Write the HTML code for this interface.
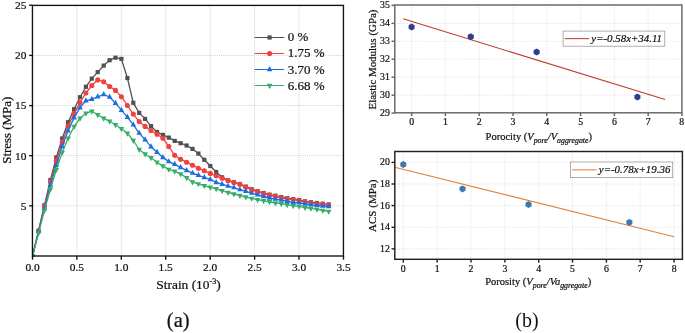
<!DOCTYPE html>
<html><head><meta charset="utf-8"><title>Figure</title>
<style>html,body{margin:0;padding:0;background:#fff}body{width:685px;height:333px;overflow:hidden}</style>
</head><body>
<svg width="685" height="333" viewBox="0 0 685 333" style="display:block">
<rect width="685" height="333" fill="#fff"/>
<g stroke="#bdbdbd" stroke-width="0.8" stroke-dasharray="0.9 1.15" fill="none">
<line x1="76.9" y1="5.4" x2="76.9" y2="256.0"/>
<line x1="121.3" y1="5.4" x2="121.3" y2="256.0"/>
<line x1="165.7" y1="5.4" x2="165.7" y2="256.0"/>
<line x1="210.2" y1="5.4" x2="210.2" y2="256.0"/>
<line x1="254.6" y1="5.4" x2="254.6" y2="256.0"/>
<line x1="299.0" y1="5.4" x2="299.0" y2="256.0"/>
<line x1="32.45" y1="205.8" x2="343.45" y2="205.8"/>
<line x1="32.45" y1="155.7" x2="343.45" y2="155.7"/>
<line x1="32.45" y1="105.6" x2="343.45" y2="105.6"/>
<line x1="32.45" y1="55.4" x2="343.45" y2="55.4"/>
</g>
<clipPath id="cl"><rect x="32.45" y="5.4" width="311.0" height="251.1"/></clipPath>
<g clip-path="url(#cl)">
<polyline points="32.5,256.3 38.5,230.8 44.4,205.3 50.4,180.0 56.3,157.4 62.2,138.5 68.1,122.2 74.1,109.2 80.0,97.2 85.9,86.8 91.8,78.6 97.7,72.1 103.7,65.6 109.6,60.2 115.5,57.7 121.4,58.9 127.4,78.0 133.3,102.8 139.2,112.9 145.1,118.9 151.0,126.1 157.0,132.0 162.9,134.9 168.8,137.6 174.7,140.9 180.6,143.2 186.6,145.5 192.5,148.9 198.4,153.6 204.3,159.8 210.3,166.0 216.2,172.0 222.1,177.3 228.0,180.3 233.9,182.2 239.9,184.0 245.8,186.6 251.7,189.2 257.6,191.2 263.6,193.0 269.5,194.6 275.4,195.7 281.3,197.1 287.2,198.2 293.2,199.1 299.1,200.0 305.0,201.3 310.9,202.2 316.9,203.0 322.8,203.7 328.7,204.4" fill="none" stroke="#515151" stroke-width="1.3" stroke-linejoin="round"/>
<rect x="30.4" y="254.2" width="4.2" height="4.2" fill="#515151" stroke="none"/>
<rect x="36.4" y="228.7" width="4.2" height="4.2" fill="#515151" stroke="none"/>
<rect x="42.3" y="203.2" width="4.2" height="4.2" fill="#515151" stroke="none"/>
<rect x="48.3" y="177.9" width="4.2" height="4.2" fill="#515151" stroke="none"/>
<rect x="54.2" y="155.3" width="4.2" height="4.2" fill="#515151" stroke="none"/>
<rect x="60.1" y="136.4" width="4.2" height="4.2" fill="#515151" stroke="none"/>
<rect x="66.0" y="120.1" width="4.2" height="4.2" fill="#515151" stroke="none"/>
<rect x="72.0" y="107.1" width="4.2" height="4.2" fill="#515151" stroke="none"/>
<rect x="77.9" y="95.1" width="4.2" height="4.2" fill="#515151" stroke="none"/>
<rect x="83.8" y="84.7" width="4.2" height="4.2" fill="#515151" stroke="none"/>
<rect x="89.7" y="76.5" width="4.2" height="4.2" fill="#515151" stroke="none"/>
<rect x="95.6" y="70.0" width="4.2" height="4.2" fill="#515151" stroke="none"/>
<rect x="101.6" y="63.5" width="4.2" height="4.2" fill="#515151" stroke="none"/>
<rect x="107.5" y="58.1" width="4.2" height="4.2" fill="#515151" stroke="none"/>
<rect x="113.4" y="55.6" width="4.2" height="4.2" fill="#515151" stroke="none"/>
<rect x="119.3" y="56.8" width="4.2" height="4.2" fill="#515151" stroke="none"/>
<rect x="125.3" y="75.9" width="4.2" height="4.2" fill="#515151" stroke="none"/>
<rect x="131.2" y="100.7" width="4.2" height="4.2" fill="#515151" stroke="none"/>
<rect x="137.1" y="110.8" width="4.2" height="4.2" fill="#515151" stroke="none"/>
<rect x="143.0" y="116.8" width="4.2" height="4.2" fill="#515151" stroke="none"/>
<rect x="148.9" y="124.0" width="4.2" height="4.2" fill="#515151" stroke="none"/>
<rect x="154.9" y="129.9" width="4.2" height="4.2" fill="#515151" stroke="none"/>
<rect x="160.8" y="132.8" width="4.2" height="4.2" fill="#515151" stroke="none"/>
<rect x="166.7" y="135.5" width="4.2" height="4.2" fill="#515151" stroke="none"/>
<rect x="172.6" y="138.8" width="4.2" height="4.2" fill="#515151" stroke="none"/>
<rect x="178.5" y="141.1" width="4.2" height="4.2" fill="#515151" stroke="none"/>
<rect x="184.5" y="143.4" width="4.2" height="4.2" fill="#515151" stroke="none"/>
<rect x="190.4" y="146.8" width="4.2" height="4.2" fill="#515151" stroke="none"/>
<rect x="196.3" y="151.5" width="4.2" height="4.2" fill="#515151" stroke="none"/>
<rect x="202.2" y="157.7" width="4.2" height="4.2" fill="#515151" stroke="none"/>
<rect x="208.2" y="163.9" width="4.2" height="4.2" fill="#515151" stroke="none"/>
<rect x="214.1" y="169.9" width="4.2" height="4.2" fill="#515151" stroke="none"/>
<rect x="220.0" y="175.2" width="4.2" height="4.2" fill="#515151" stroke="none"/>
<rect x="225.9" y="178.2" width="4.2" height="4.2" fill="#515151" stroke="none"/>
<rect x="231.8" y="180.1" width="4.2" height="4.2" fill="#515151" stroke="none"/>
<rect x="237.8" y="181.9" width="4.2" height="4.2" fill="#515151" stroke="none"/>
<rect x="243.7" y="184.5" width="4.2" height="4.2" fill="#515151" stroke="none"/>
<rect x="249.6" y="187.1" width="4.2" height="4.2" fill="#515151" stroke="none"/>
<rect x="255.5" y="189.1" width="4.2" height="4.2" fill="#515151" stroke="none"/>
<rect x="261.5" y="190.9" width="4.2" height="4.2" fill="#515151" stroke="none"/>
<rect x="267.4" y="192.5" width="4.2" height="4.2" fill="#515151" stroke="none"/>
<rect x="273.3" y="193.6" width="4.2" height="4.2" fill="#515151" stroke="none"/>
<rect x="279.2" y="195.0" width="4.2" height="4.2" fill="#515151" stroke="none"/>
<rect x="285.1" y="196.1" width="4.2" height="4.2" fill="#515151" stroke="none"/>
<rect x="291.1" y="197.0" width="4.2" height="4.2" fill="#515151" stroke="none"/>
<rect x="297.0" y="197.9" width="4.2" height="4.2" fill="#515151" stroke="none"/>
<rect x="302.9" y="199.2" width="4.2" height="4.2" fill="#515151" stroke="none"/>
<rect x="308.8" y="200.1" width="4.2" height="4.2" fill="#515151" stroke="none"/>
<rect x="314.8" y="200.9" width="4.2" height="4.2" fill="#515151" stroke="none"/>
<rect x="320.7" y="201.6" width="4.2" height="4.2" fill="#515151" stroke="none"/>
<rect x="326.6" y="202.3" width="4.2" height="4.2" fill="#515151" stroke="none"/>
<polyline points="32.5,256.3 38.5,231.0 44.4,206.5 50.4,182.0 56.3,160.8 62.2,142.5 68.1,126.1 74.1,113.6 80.0,102.5 85.9,93.0 91.8,85.5 97.7,79.9 103.7,81.7 109.6,86.5 115.5,90.4 121.4,96.7 127.4,105.5 133.3,114.1 139.2,121.6 145.1,126.4 151.0,130.5 157.0,134.3 162.9,138.2 168.8,146.5 174.7,155.3 180.6,159.2 186.6,162.2 192.5,165.2 198.4,168.2 204.3,170.8 210.3,173.4 216.2,175.8 222.1,178.3 228.0,180.6 233.9,182.5 239.9,184.3 245.8,187.3 251.7,189.9 257.6,191.9 263.6,193.7 269.5,195.3 275.4,196.4 281.3,197.8 287.2,198.9 293.2,199.8 299.1,200.7 305.0,202.0 310.9,202.9 316.9,203.7 322.8,204.4 328.7,205.1" fill="none" stroke="#F14040" stroke-width="1.3" stroke-linejoin="round"/>
<circle cx="32.5" cy="256.3" r="2.55" fill="#F14040" stroke="none"/>
<circle cx="38.5" cy="231.0" r="2.55" fill="#F14040" stroke="none"/>
<circle cx="44.4" cy="206.5" r="2.55" fill="#F14040" stroke="none"/>
<circle cx="50.4" cy="182.0" r="2.55" fill="#F14040" stroke="none"/>
<circle cx="56.3" cy="160.8" r="2.55" fill="#F14040" stroke="none"/>
<circle cx="62.2" cy="142.5" r="2.55" fill="#F14040" stroke="none"/>
<circle cx="68.1" cy="126.1" r="2.55" fill="#F14040" stroke="none"/>
<circle cx="74.1" cy="113.6" r="2.55" fill="#F14040" stroke="none"/>
<circle cx="80.0" cy="102.5" r="2.55" fill="#F14040" stroke="none"/>
<circle cx="85.9" cy="93.0" r="2.55" fill="#F14040" stroke="none"/>
<circle cx="91.8" cy="85.5" r="2.55" fill="#F14040" stroke="none"/>
<circle cx="97.7" cy="79.9" r="2.55" fill="#F14040" stroke="none"/>
<circle cx="103.7" cy="81.7" r="2.55" fill="#F14040" stroke="none"/>
<circle cx="109.6" cy="86.5" r="2.55" fill="#F14040" stroke="none"/>
<circle cx="115.5" cy="90.4" r="2.55" fill="#F14040" stroke="none"/>
<circle cx="121.4" cy="96.7" r="2.55" fill="#F14040" stroke="none"/>
<circle cx="127.4" cy="105.5" r="2.55" fill="#F14040" stroke="none"/>
<circle cx="133.3" cy="114.1" r="2.55" fill="#F14040" stroke="none"/>
<circle cx="139.2" cy="121.6" r="2.55" fill="#F14040" stroke="none"/>
<circle cx="145.1" cy="126.4" r="2.55" fill="#F14040" stroke="none"/>
<circle cx="151.0" cy="130.5" r="2.55" fill="#F14040" stroke="none"/>
<circle cx="157.0" cy="134.3" r="2.55" fill="#F14040" stroke="none"/>
<circle cx="162.9" cy="138.2" r="2.55" fill="#F14040" stroke="none"/>
<circle cx="168.8" cy="146.5" r="2.55" fill="#F14040" stroke="none"/>
<circle cx="174.7" cy="155.3" r="2.55" fill="#F14040" stroke="none"/>
<circle cx="180.6" cy="159.2" r="2.55" fill="#F14040" stroke="none"/>
<circle cx="186.6" cy="162.2" r="2.55" fill="#F14040" stroke="none"/>
<circle cx="192.5" cy="165.2" r="2.55" fill="#F14040" stroke="none"/>
<circle cx="198.4" cy="168.2" r="2.55" fill="#F14040" stroke="none"/>
<circle cx="204.3" cy="170.8" r="2.55" fill="#F14040" stroke="none"/>
<circle cx="210.3" cy="173.4" r="2.55" fill="#F14040" stroke="none"/>
<circle cx="216.2" cy="175.8" r="2.55" fill="#F14040" stroke="none"/>
<circle cx="222.1" cy="178.3" r="2.55" fill="#F14040" stroke="none"/>
<circle cx="228.0" cy="180.6" r="2.55" fill="#F14040" stroke="none"/>
<circle cx="233.9" cy="182.5" r="2.55" fill="#F14040" stroke="none"/>
<circle cx="239.9" cy="184.3" r="2.55" fill="#F14040" stroke="none"/>
<circle cx="245.8" cy="187.3" r="2.55" fill="#F14040" stroke="none"/>
<circle cx="251.7" cy="189.9" r="2.55" fill="#F14040" stroke="none"/>
<circle cx="257.6" cy="191.9" r="2.55" fill="#F14040" stroke="none"/>
<circle cx="263.6" cy="193.7" r="2.55" fill="#F14040" stroke="none"/>
<circle cx="269.5" cy="195.3" r="2.55" fill="#F14040" stroke="none"/>
<circle cx="275.4" cy="196.4" r="2.55" fill="#F14040" stroke="none"/>
<circle cx="281.3" cy="197.8" r="2.55" fill="#F14040" stroke="none"/>
<circle cx="287.2" cy="198.9" r="2.55" fill="#F14040" stroke="none"/>
<circle cx="293.2" cy="199.8" r="2.55" fill="#F14040" stroke="none"/>
<circle cx="299.1" cy="200.7" r="2.55" fill="#F14040" stroke="none"/>
<circle cx="305.0" cy="202.0" r="2.55" fill="#F14040" stroke="none"/>
<circle cx="310.9" cy="202.9" r="2.55" fill="#F14040" stroke="none"/>
<circle cx="316.9" cy="203.7" r="2.55" fill="#F14040" stroke="none"/>
<circle cx="322.8" cy="204.4" r="2.55" fill="#F14040" stroke="none"/>
<circle cx="328.7" cy="205.1" r="2.55" fill="#F14040" stroke="none"/>
<polyline points="32.5,256.3 38.5,231.5 44.4,208.3 50.4,185.0 56.3,165.3 62.2,146.5 68.1,130.7 74.1,117.8 80.0,107.7 85.9,100.8 91.8,99.2 97.7,96.8 103.7,94.5 109.6,97.0 115.5,103.2 121.4,110.2 127.4,117.2 133.3,124.8 139.2,133.1 145.1,139.7 151.0,146.7 157.0,152.3 162.9,157.4 168.8,161.6 174.7,164.3 180.6,167.4 186.6,170.4 192.5,173.1 198.4,175.3 204.3,177.5 210.3,179.4 216.2,182.4 222.1,184.2 228.0,186.1 233.9,187.6 239.9,189.6 245.8,191.3 251.7,193.1 257.6,194.8 263.6,196.5 269.5,198.0 275.4,199.1 281.3,200.1 287.2,201.2 293.2,202.4 299.1,202.8 305.0,203.9 310.9,204.8 316.9,205.5 322.8,206.1 328.7,206.6" fill="none" stroke="#1A6FDF" stroke-width="1.3" stroke-linejoin="round"/>
<polygon points="32.5,252.83 29.7,258.03 35.2,258.03" fill="#1A6FDF" stroke="none"/>
<polygon points="38.5,228.03 35.7,233.23 41.3,233.23" fill="#1A6FDF" stroke="none"/>
<polygon points="44.4,204.83 41.6,210.03 47.2,210.03" fill="#1A6FDF" stroke="none"/>
<polygon points="50.4,181.53 47.6,186.73 53.2,186.73" fill="#1A6FDF" stroke="none"/>
<polygon points="56.3,161.83 53.5,167.03 59.1,167.03" fill="#1A6FDF" stroke="none"/>
<polygon points="62.2,143.03 59.4,148.23 65.0,148.23" fill="#1A6FDF" stroke="none"/>
<polygon points="68.1,127.23 65.3,132.43 70.9,132.43" fill="#1A6FDF" stroke="none"/>
<polygon points="74.1,114.33 71.3,119.53 76.9,119.53" fill="#1A6FDF" stroke="none"/>
<polygon points="80.0,104.23 77.2,109.43 82.8,109.43" fill="#1A6FDF" stroke="none"/>
<polygon points="85.9,97.33 83.1,102.53 88.7,102.53" fill="#1A6FDF" stroke="none"/>
<polygon points="91.8,95.73 89.0,100.93 94.6,100.93" fill="#1A6FDF" stroke="none"/>
<polygon points="97.7,93.33 94.9,98.53 100.5,98.53" fill="#1A6FDF" stroke="none"/>
<polygon points="103.7,91.03 100.9,96.23 106.5,96.23" fill="#1A6FDF" stroke="none"/>
<polygon points="109.6,93.53 106.8,98.73 112.4,98.73" fill="#1A6FDF" stroke="none"/>
<polygon points="115.5,99.73 112.7,104.93 118.3,104.93" fill="#1A6FDF" stroke="none"/>
<polygon points="121.4,106.73 118.6,111.93 124.2,111.93" fill="#1A6FDF" stroke="none"/>
<polygon points="127.4,113.73 124.6,118.93 130.2,118.93" fill="#1A6FDF" stroke="none"/>
<polygon points="133.3,121.33 130.5,126.53 136.1,126.53" fill="#1A6FDF" stroke="none"/>
<polygon points="139.2,129.63 136.4,134.83 142.0,134.83" fill="#1A6FDF" stroke="none"/>
<polygon points="145.1,136.23 142.3,141.43 147.9,141.43" fill="#1A6FDF" stroke="none"/>
<polygon points="151.0,143.23 148.2,148.43 153.8,148.43" fill="#1A6FDF" stroke="none"/>
<polygon points="157.0,148.83 154.2,154.03 159.8,154.03" fill="#1A6FDF" stroke="none"/>
<polygon points="162.9,153.93 160.1,159.13 165.7,159.13" fill="#1A6FDF" stroke="none"/>
<polygon points="168.8,158.13 166.0,163.33 171.6,163.33" fill="#1A6FDF" stroke="none"/>
<polygon points="174.7,160.83 171.9,166.03 177.5,166.03" fill="#1A6FDF" stroke="none"/>
<polygon points="180.6,163.93 177.8,169.13 183.4,169.13" fill="#1A6FDF" stroke="none"/>
<polygon points="186.6,166.93 183.8,172.13 189.4,172.13" fill="#1A6FDF" stroke="none"/>
<polygon points="192.5,169.63 189.7,174.83 195.3,174.83" fill="#1A6FDF" stroke="none"/>
<polygon points="198.4,171.83 195.6,177.03 201.2,177.03" fill="#1A6FDF" stroke="none"/>
<polygon points="204.3,174.03 201.5,179.23 207.1,179.23" fill="#1A6FDF" stroke="none"/>
<polygon points="210.3,175.93 207.5,181.13 213.1,181.13" fill="#1A6FDF" stroke="none"/>
<polygon points="216.2,178.93 213.4,184.13 219.0,184.13" fill="#1A6FDF" stroke="none"/>
<polygon points="222.1,180.73 219.3,185.93 224.9,185.93" fill="#1A6FDF" stroke="none"/>
<polygon points="228.0,182.63 225.2,187.83 230.8,187.83" fill="#1A6FDF" stroke="none"/>
<polygon points="233.9,184.13 231.1,189.33 236.7,189.33" fill="#1A6FDF" stroke="none"/>
<polygon points="239.9,186.13 237.1,191.33 242.7,191.33" fill="#1A6FDF" stroke="none"/>
<polygon points="245.8,187.83 243.0,193.03 248.6,193.03" fill="#1A6FDF" stroke="none"/>
<polygon points="251.7,189.63 248.9,194.83 254.5,194.83" fill="#1A6FDF" stroke="none"/>
<polygon points="257.6,191.33 254.8,196.53 260.4,196.53" fill="#1A6FDF" stroke="none"/>
<polygon points="263.6,193.03 260.8,198.23 266.4,198.23" fill="#1A6FDF" stroke="none"/>
<polygon points="269.5,194.53 266.7,199.73 272.3,199.73" fill="#1A6FDF" stroke="none"/>
<polygon points="275.4,195.63 272.6,200.83 278.2,200.83" fill="#1A6FDF" stroke="none"/>
<polygon points="281.3,196.63 278.5,201.83 284.1,201.83" fill="#1A6FDF" stroke="none"/>
<polygon points="287.2,197.73 284.4,202.93 290.0,202.93" fill="#1A6FDF" stroke="none"/>
<polygon points="293.2,198.93 290.4,204.13 296.0,204.13" fill="#1A6FDF" stroke="none"/>
<polygon points="299.1,199.33 296.3,204.53 301.9,204.53" fill="#1A6FDF" stroke="none"/>
<polygon points="305.0,200.43 302.2,205.63 307.8,205.63" fill="#1A6FDF" stroke="none"/>
<polygon points="310.9,201.33 308.1,206.53 313.7,206.53" fill="#1A6FDF" stroke="none"/>
<polygon points="316.9,202.03 314.1,207.23 319.7,207.23" fill="#1A6FDF" stroke="none"/>
<polygon points="322.8,202.63 320.0,207.83 325.6,207.83" fill="#1A6FDF" stroke="none"/>
<polygon points="328.7,203.13 325.9,208.33 331.5,208.33" fill="#1A6FDF" stroke="none"/>
<polyline points="32.5,256.3 38.5,233.3 44.4,210.6 50.4,189.2 56.3,169.8 62.2,152.6 68.1,138.3 74.1,126.5 80.0,118.3 85.9,113.3 91.8,111.2 97.7,114.8 103.7,118.3 109.6,121.3 115.5,124.7 121.4,128.8 127.4,133.2 133.3,140.5 139.2,149.5 145.1,154.1 151.0,157.8 157.0,162.3 162.9,166.1 168.8,169.4 174.7,171.3 180.6,173.9 186.6,177.7 192.5,182.1 198.4,183.9 204.3,185.8 210.3,187.3 216.2,188.8 222.1,190.8 228.0,192.5 233.9,194.0 239.9,195.5 245.8,197.1 251.7,198.4 257.6,199.7 263.6,200.8 269.5,201.8 275.4,203.0 281.3,203.7 287.2,204.8 293.2,205.7 299.1,206.4 305.0,207.5 310.9,208.4 316.9,209.4 322.8,210.5 328.7,211.4" fill="none" stroke="#37AD6B" stroke-width="1.3" stroke-linejoin="round"/>
<polygon points="32.5,259.77 29.7,254.57 35.2,254.57" fill="#37AD6B" stroke="none"/>
<polygon points="38.5,236.77 35.7,231.57 41.3,231.57" fill="#37AD6B" stroke="none"/>
<polygon points="44.4,214.07 41.6,208.87 47.2,208.87" fill="#37AD6B" stroke="none"/>
<polygon points="50.4,192.67 47.6,187.47 53.2,187.47" fill="#37AD6B" stroke="none"/>
<polygon points="56.3,173.27 53.5,168.07 59.1,168.07" fill="#37AD6B" stroke="none"/>
<polygon points="62.2,156.07 59.4,150.87 65.0,150.87" fill="#37AD6B" stroke="none"/>
<polygon points="68.1,141.77 65.3,136.57 70.9,136.57" fill="#37AD6B" stroke="none"/>
<polygon points="74.1,129.97 71.3,124.77 76.9,124.77" fill="#37AD6B" stroke="none"/>
<polygon points="80.0,121.77 77.2,116.57 82.8,116.57" fill="#37AD6B" stroke="none"/>
<polygon points="85.9,116.77 83.1,111.57 88.7,111.57" fill="#37AD6B" stroke="none"/>
<polygon points="91.8,114.67 89.0,109.47 94.6,109.47" fill="#37AD6B" stroke="none"/>
<polygon points="97.7,118.27 94.9,113.07 100.5,113.07" fill="#37AD6B" stroke="none"/>
<polygon points="103.7,121.77 100.9,116.57 106.5,116.57" fill="#37AD6B" stroke="none"/>
<polygon points="109.6,124.77 106.8,119.57 112.4,119.57" fill="#37AD6B" stroke="none"/>
<polygon points="115.5,128.17 112.7,122.97 118.3,122.97" fill="#37AD6B" stroke="none"/>
<polygon points="121.4,132.27 118.6,127.07 124.2,127.07" fill="#37AD6B" stroke="none"/>
<polygon points="127.4,136.67 124.6,131.47 130.2,131.47" fill="#37AD6B" stroke="none"/>
<polygon points="133.3,143.97 130.5,138.77 136.1,138.77" fill="#37AD6B" stroke="none"/>
<polygon points="139.2,152.97 136.4,147.77 142.0,147.77" fill="#37AD6B" stroke="none"/>
<polygon points="145.1,157.57 142.3,152.37 147.9,152.37" fill="#37AD6B" stroke="none"/>
<polygon points="151.0,161.27 148.2,156.07 153.8,156.07" fill="#37AD6B" stroke="none"/>
<polygon points="157.0,165.77 154.2,160.57 159.8,160.57" fill="#37AD6B" stroke="none"/>
<polygon points="162.9,169.57 160.1,164.37 165.7,164.37" fill="#37AD6B" stroke="none"/>
<polygon points="168.8,172.87 166.0,167.67 171.6,167.67" fill="#37AD6B" stroke="none"/>
<polygon points="174.7,174.77 171.9,169.57 177.5,169.57" fill="#37AD6B" stroke="none"/>
<polygon points="180.6,177.37 177.8,172.17 183.4,172.17" fill="#37AD6B" stroke="none"/>
<polygon points="186.6,181.17 183.8,175.97 189.4,175.97" fill="#37AD6B" stroke="none"/>
<polygon points="192.5,185.57 189.7,180.37 195.3,180.37" fill="#37AD6B" stroke="none"/>
<polygon points="198.4,187.37 195.6,182.17 201.2,182.17" fill="#37AD6B" stroke="none"/>
<polygon points="204.3,189.27 201.5,184.07 207.1,184.07" fill="#37AD6B" stroke="none"/>
<polygon points="210.3,190.77 207.5,185.57 213.1,185.57" fill="#37AD6B" stroke="none"/>
<polygon points="216.2,192.27 213.4,187.07 219.0,187.07" fill="#37AD6B" stroke="none"/>
<polygon points="222.1,194.27 219.3,189.07 224.9,189.07" fill="#37AD6B" stroke="none"/>
<polygon points="228.0,195.97 225.2,190.77 230.8,190.77" fill="#37AD6B" stroke="none"/>
<polygon points="233.9,197.47 231.1,192.27 236.7,192.27" fill="#37AD6B" stroke="none"/>
<polygon points="239.9,198.97 237.1,193.77 242.7,193.77" fill="#37AD6B" stroke="none"/>
<polygon points="245.8,200.57 243.0,195.37 248.6,195.37" fill="#37AD6B" stroke="none"/>
<polygon points="251.7,201.87 248.9,196.67 254.5,196.67" fill="#37AD6B" stroke="none"/>
<polygon points="257.6,203.17 254.8,197.97 260.4,197.97" fill="#37AD6B" stroke="none"/>
<polygon points="263.6,204.27 260.8,199.07 266.4,199.07" fill="#37AD6B" stroke="none"/>
<polygon points="269.5,205.27 266.7,200.07 272.3,200.07" fill="#37AD6B" stroke="none"/>
<polygon points="275.4,206.47 272.6,201.27 278.2,201.27" fill="#37AD6B" stroke="none"/>
<polygon points="281.3,207.17 278.5,201.97 284.1,201.97" fill="#37AD6B" stroke="none"/>
<polygon points="287.2,208.27 284.4,203.07 290.0,203.07" fill="#37AD6B" stroke="none"/>
<polygon points="293.2,209.17 290.4,203.97 296.0,203.97" fill="#37AD6B" stroke="none"/>
<polygon points="299.1,209.87 296.3,204.67 301.9,204.67" fill="#37AD6B" stroke="none"/>
<polygon points="305.0,210.97 302.2,205.77 307.8,205.77" fill="#37AD6B" stroke="none"/>
<polygon points="310.9,211.87 308.1,206.67 313.7,206.67" fill="#37AD6B" stroke="none"/>
<polygon points="316.9,212.87 314.1,207.67 319.7,207.67" fill="#37AD6B" stroke="none"/>
<polygon points="322.8,213.97 320.0,208.77 325.6,208.77" fill="#37AD6B" stroke="none"/>
<polygon points="328.7,214.87 325.9,209.67 331.5,209.67" fill="#37AD6B" stroke="none"/>
</g>
<g stroke="#111" stroke-width="1.35" fill="none">
<rect x="32.45" y="5.4" width="311.0" height="250.6"/>
<line x1="32.5" y1="256.0" x2="32.5" y2="259.7"/>
<line x1="76.9" y1="256.0" x2="76.9" y2="259.7"/>
<line x1="121.3" y1="256.0" x2="121.3" y2="259.7"/>
<line x1="165.7" y1="256.0" x2="165.7" y2="259.7"/>
<line x1="210.2" y1="256.0" x2="210.2" y2="259.7"/>
<line x1="254.6" y1="256.0" x2="254.6" y2="259.7"/>
<line x1="299.0" y1="256.0" x2="299.0" y2="259.7"/>
<line x1="343.5" y1="256.0" x2="343.5" y2="259.7"/>
<line x1="32.45" y1="205.8" x2="29.150000000000002" y2="205.8"/>
<line x1="32.45" y1="155.7" x2="29.150000000000002" y2="155.7"/>
<line x1="32.45" y1="105.6" x2="29.150000000000002" y2="105.6"/>
<line x1="32.45" y1="55.4" x2="29.150000000000002" y2="55.4"/>
<line x1="32.45" y1="5.2" x2="29.150000000000002" y2="5.2"/>
</g>
<g font-family="'Liberation Serif', serif" fill="#111" stroke="#111" stroke-width="0.22">
<g font-size="11.4" text-anchor="middle">
<text x="32.5" y="270.9">0.0</text>
<text x="76.9" y="270.9">0.5</text>
<text x="121.3" y="270.9">1.0</text>
<text x="165.7" y="270.9">1.5</text>
<text x="210.2" y="270.9">2.0</text>
<text x="254.6" y="270.9">2.5</text>
<text x="299.0" y="270.9">3.0</text>
<text x="343.5" y="270.9">3.5</text>
</g>
<g font-size="11.4" text-anchor="end">
<text x="26.4" y="209.7">5</text>
<text x="26.4" y="159.5">10</text>
<text x="26.4" y="109.4">15</text>
<text x="26.4" y="59.2">20</text>
<text x="26.4" y="9.1">25</text>
</g>
<text x="188.5" y="289.2" font-size="13.4" text-anchor="middle">Strain (10<tspan font-size="8" dy="-5.2">-3</tspan><tspan dy="5.2">)</tspan></text>
<text transform="translate(10.9,130.3) rotate(-90)" font-size="12.9" text-anchor="middle">Stress (MPa)</text>
<text x="178.2" y="326.6" font-size="20.5" text-anchor="middle">(a)</text>
<line x1="254.6" y1="37.5" x2="284.2" y2="37.5" stroke="#515151" stroke-width="1"/>
<rect x="267.5" y="35.4" width="4.2" height="4.2" fill="#515151" stroke="none"/>
<text x="287.8" y="41.3" font-size="13">0 %</text>
<line x1="254.6" y1="53.5" x2="284.2" y2="53.5" stroke="#F14040" stroke-width="1"/>
<circle cx="269.6" cy="53.5" r="2.55" fill="#F14040" stroke="none"/>
<text x="287.8" y="57.4" font-size="13">1.75 %</text>
<line x1="254.6" y1="69.5" x2="284.2" y2="69.5" stroke="#1A6FDF" stroke-width="1"/>
<polygon points="269.6,66.03 266.8,71.23 272.4,71.23" fill="#1A6FDF" stroke="none"/>
<text x="287.8" y="73.6" font-size="13">3.70 %</text>
<line x1="254.6" y1="85.5" x2="284.2" y2="85.5" stroke="#37AD6B" stroke-width="1"/>
<polygon points="269.6,88.97 266.8,83.77 272.4,83.77" fill="#37AD6B" stroke="none"/>
<text x="287.8" y="89.6" font-size="13">6.68 %</text>
</g>
<g stroke="#d4d4d4" stroke-width="0.8" stroke-dasharray="0.8 1.3" fill="none">
<line x1="411.6" y1="5.0" x2="411.6" y2="112.8"/>
<line x1="445.4" y1="5.0" x2="445.4" y2="112.8"/>
<line x1="479.2" y1="5.0" x2="479.2" y2="112.8"/>
<line x1="513.0" y1="5.0" x2="513.0" y2="112.8"/>
<line x1="546.8" y1="5.0" x2="546.8" y2="112.8"/>
<line x1="580.6" y1="5.0" x2="580.6" y2="112.8"/>
<line x1="614.4" y1="5.0" x2="614.4" y2="112.8"/>
<line x1="648.2" y1="5.0" x2="648.2" y2="112.8"/>
<line x1="394.8" y1="95.2" x2="681.9" y2="95.2"/>
<line x1="394.8" y1="77.2" x2="681.9" y2="77.2"/>
<line x1="394.8" y1="59.2" x2="681.9" y2="59.2"/>
<line x1="394.8" y1="41.3" x2="681.9" y2="41.3"/>
<line x1="394.8" y1="23.4" x2="681.9" y2="23.4"/>
</g>
<line x1="403.2" y1="18.8" x2="665.1" y2="99.5" stroke="#c0392b" stroke-width="1.1"/>
<polygon points="411.6,23.4 414.6,25.2 414.6,28.7 411.6,30.4 408.6,28.7 408.6,25.2" fill="#343c8e"/>
<polygon points="470.8,33.3 473.8,35.1 473.8,38.6 470.8,40.3 467.7,38.6 467.7,35.1" fill="#343c8e"/>
<polygon points="536.7,48.6 539.7,50.3 539.7,53.8 536.7,55.6 533.6,53.8 533.6,50.3" fill="#343c8e"/>
<polygon points="637.4,93.4 640.4,95.2 640.4,98.7 637.4,100.4 634.4,98.7 634.4,95.2" fill="#343c8e"/>
<g stroke="#666" stroke-width="1.45" fill="none">
<rect x="394.8" y="5.0" width="287.09999999999997" height="107.8"/>
<line x1="411.6" y1="112.8" x2="411.6" y2="116.1"/>
<line x1="445.4" y1="112.8" x2="445.4" y2="116.1"/>
<line x1="479.2" y1="112.8" x2="479.2" y2="116.1"/>
<line x1="513.0" y1="112.8" x2="513.0" y2="116.1"/>
<line x1="546.8" y1="112.8" x2="546.8" y2="116.1"/>
<line x1="580.6" y1="112.8" x2="580.6" y2="116.1"/>
<line x1="614.4" y1="112.8" x2="614.4" y2="116.1"/>
<line x1="648.2" y1="112.8" x2="648.2" y2="116.1"/>
<line x1="682.0" y1="112.8" x2="682.0" y2="116.1"/>
<line x1="394.8" y1="113.1" x2="391.5" y2="113.1"/>
<line x1="394.8" y1="95.2" x2="391.5" y2="95.2"/>
<line x1="394.8" y1="77.2" x2="391.5" y2="77.2"/>
<line x1="394.8" y1="59.2" x2="391.5" y2="59.2"/>
<line x1="394.8" y1="41.3" x2="391.5" y2="41.3"/>
<line x1="394.8" y1="23.4" x2="391.5" y2="23.4"/>
<line x1="394.8" y1="5.4" x2="391.5" y2="5.4"/>
</g>
<g font-family="'Liberation Serif', serif" fill="#111" stroke="#111" stroke-width="0.22">
<g font-size="9.8" text-anchor="middle">
<text x="411.6" y="125.2">0</text>
<text x="445.4" y="125.2">1</text>
<text x="479.2" y="125.2">2</text>
<text x="513.0" y="125.2">3</text>
<text x="546.8" y="125.2">4</text>
<text x="580.6" y="125.2">5</text>
<text x="614.4" y="125.2">6</text>
<text x="648.2" y="125.2">7</text>
<text x="681.6" y="125.2">8</text>
</g><g font-size="9.8" text-anchor="end">
<text x="389.9" y="115.6">29</text>
<text x="389.9" y="97.7">30</text>
<text x="389.9" y="79.7">31</text>
<text x="389.9" y="61.7">32</text>
<text x="389.9" y="43.8">33</text>
<text x="389.9" y="25.9">34</text>
<text x="389.9" y="7.9">35</text>
</g>
<text x="485.6" y="139.8" font-size="10.5">Porocity (<tspan font-style="italic">V</tspan><tspan font-style="italic" font-size="7.8" dy="3">pore</tspan><tspan dy="-3" font-style="italic">/V</tspan><tspan font-style="italic" font-size="7.8" dy="3">aggregate</tspan><tspan dy="-3">)</tspan></text>
<text transform="translate(376.2,59.5) rotate(-90)" font-size="10.9" text-anchor="middle">Elastic Modulus (GPa)</text>
<rect x="563.1" y="31.1" width="101.7" height="15.1" fill="#fff" stroke="#9a9a9a" stroke-width="0.8"/>
<line x1="564.6" y1="38.65" x2="589.1" y2="38.65" stroke="#c0392b" stroke-width="1.0"/>
<text x="591.3000000000001" y="42.2" font-size="10.9" font-style="italic">y=-0.58x+34.11</text>
</g>
<g stroke="#d4d4d4" stroke-width="0.8" stroke-dasharray="0.8 1.3" fill="none">
<line x1="403.3" y1="151.5" x2="403.3" y2="259.3"/>
<line x1="437.2" y1="151.5" x2="437.2" y2="259.3"/>
<line x1="471.0" y1="151.5" x2="471.0" y2="259.3"/>
<line x1="504.9" y1="151.5" x2="504.9" y2="259.3"/>
<line x1="538.7" y1="151.5" x2="538.7" y2="259.3"/>
<line x1="572.5" y1="151.5" x2="572.5" y2="259.3"/>
<line x1="606.4" y1="151.5" x2="606.4" y2="259.3"/>
<line x1="640.2" y1="151.5" x2="640.2" y2="259.3"/>
<line x1="674.1" y1="151.5" x2="674.1" y2="259.3"/>
<line x1="394.8" y1="248.9" x2="682.4" y2="248.9"/>
<line x1="394.8" y1="227.3" x2="682.4" y2="227.3"/>
<line x1="394.8" y1="205.6" x2="682.4" y2="205.6"/>
<line x1="394.8" y1="184.0" x2="682.4" y2="184.0"/>
<line x1="394.8" y1="162.4" x2="682.4" y2="162.4"/>
</g>
<line x1="394.8" y1="167.2" x2="674.1" y2="236.8" stroke="#e5813b" stroke-width="1.1"/>
<polygon points="403.3,161.1 406.3,162.8 406.3,166.3 403.3,168.1 400.3,166.3 400.3,162.8" fill="#3b78b0"/>
<polygon points="462.5,185.4 465.6,187.1 465.6,190.6 462.5,192.4 459.5,190.6 459.5,187.1" fill="#3b78b0"/>
<polygon points="528.5,201.1 531.6,202.8 531.6,206.3 528.5,208.1 525.5,206.3 525.5,202.8" fill="#3b78b0"/>
<polygon points="629.4,218.9 632.4,220.6 632.4,224.1 629.4,225.9 626.4,224.1 626.4,220.6" fill="#3b78b0"/>
<g stroke="#222" stroke-width="1.45" fill="none">
<rect x="394.8" y="151.5" width="287.59999999999997" height="107.80000000000001"/>
<line x1="403.3" y1="259.3" x2="403.3" y2="262.6"/>
<line x1="437.2" y1="259.3" x2="437.2" y2="262.6"/>
<line x1="471.0" y1="259.3" x2="471.0" y2="262.6"/>
<line x1="504.9" y1="259.3" x2="504.9" y2="262.6"/>
<line x1="538.7" y1="259.3" x2="538.7" y2="262.6"/>
<line x1="572.5" y1="259.3" x2="572.5" y2="262.6"/>
<line x1="606.4" y1="259.3" x2="606.4" y2="262.6"/>
<line x1="640.2" y1="259.3" x2="640.2" y2="262.6"/>
<line x1="674.1" y1="259.3" x2="674.1" y2="262.6"/>
<line x1="394.8" y1="248.9" x2="391.5" y2="248.9"/>
<line x1="394.8" y1="227.3" x2="391.5" y2="227.3"/>
<line x1="394.8" y1="205.6" x2="391.5" y2="205.6"/>
<line x1="394.8" y1="184.0" x2="391.5" y2="184.0"/>
<line x1="394.8" y1="162.4" x2="391.5" y2="162.4"/>
</g>
<g font-family="'Liberation Serif', serif" fill="#111" stroke="#111" stroke-width="0.22">
<g font-size="9.8" text-anchor="middle">
<text x="403.3" y="272.2">0</text>
<text x="437.2" y="272.2">1</text>
<text x="471.0" y="272.2">2</text>
<text x="504.9" y="272.2">3</text>
<text x="538.7" y="272.2">4</text>
<text x="572.5" y="272.2">5</text>
<text x="606.4" y="272.2">6</text>
<text x="640.2" y="272.2">7</text>
<text x="674.1" y="272.2">8</text>
</g><g font-size="9.8" text-anchor="end">
<text x="389.9" y="251.9">12</text>
<text x="389.9" y="230.3">14</text>
<text x="389.9" y="208.6">16</text>
<text x="389.9" y="187.0">18</text>
<text x="389.9" y="165.4">20</text>
</g>
<text x="485.2" y="285" font-size="10.5">Porosity (<tspan font-style="italic">V</tspan><tspan font-style="italic" font-size="7.8" dy="3">pore</tspan><tspan dy="-3" font-style="italic">/Va</tspan><tspan font-style="italic" font-size="7.8" dy="3">ggregate</tspan><tspan dy="-3">)</tspan></text>
<text transform="translate(376.2,205.8) rotate(-90)" font-size="11.0" text-anchor="middle">ACS (MPa)</text>
<rect x="570.6" y="162.0" width="102.1" height="15.6" fill="#fff" stroke="#9a9a9a" stroke-width="0.8"/>
<line x1="572.1" y1="169.8" x2="596.6" y2="169.8" stroke="#f2a878" stroke-width="1.6"/>
<text x="598.8000000000001" y="173.4" font-size="10.9" font-style="italic">y=-0.78x+19.36</text>
</g>
<text x="527" y="327.2" font-size="20" text-anchor="middle" font-family="'Liberation Serif', serif" fill="#111">(b)</text>
</svg>
</body></html>
